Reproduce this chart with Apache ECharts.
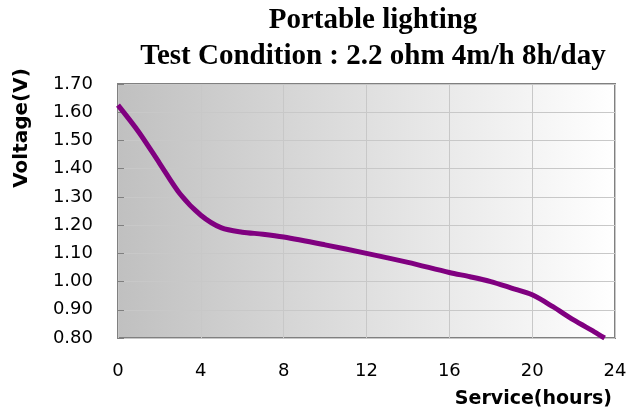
<!DOCTYPE html>
<html>
<head>
<meta charset="utf-8">
<script src="https://cdn.jsdelivr.net/npm/echarts@6/dist/echarts.min.js"></script>
<style>
  html, body { margin: 0; padding: 0; background: #fff; }
  #chart { width: 640px; height: 420px; }
</style>
</head>
<body>
<div id="chart"></div>
<script>
// service time (hours) and cell voltage
var hours   = [0, 1, 2, 3, 4, 5, 6, 7, 8, 10, 12, 14, 16, 17, 18, 19, 20, 21, 22, 23, 23.5];
var voltage = [1.625, 1.53, 1.42, 1.31, 1.235, 1.19, 1.175, 1.168, 1.158, 1.13, 1.10, 1.068, 1.032, 1.017, 1.0, 0.977, 0.953, 0.911, 0.864, 0.822, 0.80];

var titleLines = ['Portable lighting', 'Test Condition : 2.2 ohm 4m/h 8h/day'];

var points = hours.map(function (h, i) { return [h, voltage[i]]; });

var chart = echarts.init(document.getElementById('chart'));
chart.setOption({
    animation: false,
    title: [
        {
            text: titleLines[0],
            left: 373, top: 6, textAlign: 'center', padding: 0,
            textStyle: { fontFamily: 'Liberation Serif', fontWeight: 'bold', fontSize: 29, color: '#000' }
        },
        {
            text: titleLines[1],
            left: 373, top: 42, textAlign: 'center', padding: 0,
            textStyle: { fontFamily: 'Liberation Serif', fontWeight: 'bold', fontSize: 29, color: '#000' }
        }
    ],
    grid: {
        left: 118, right: 25, top: 84, bottom: 82,
        show: true,
        borderColor: '#808080',
        borderWidth: 2,
        backgroundColor: {
            type: 'linear', x: 0, y: 0, x2: 1, y2: 0,
            colorStops: [{ offset: 0, color: '#c0c0c0' }, { offset: 1, color: '#ffffff' }]
        }
    },
    xAxis: {
        type: 'value',
        min: 0, max: 24, interval: 4,
        axisLine: { show: false },
        axisTick: { show: false },
        axisLabel: { margin: 24, fontFamily: 'DejaVu Sans', fontSize: 18, color: '#000' },
        splitLine: { lineStyle: { color: '#c8c8c8', width: 1 } }
    },
    yAxis: {
        type: 'value',
        min: 0.8, max: 1.7, interval: 0.1,
        axisLine: { show: false },
        axisTick: { show: true, inside: true, length: 6, lineStyle: { color: '#808080' } },
        axisLabel: {
            margin: 25, fontFamily: 'DejaVu Sans', fontSize: 18, color: '#000',
            formatter: function (v) { return v.toFixed(2); }
        },
        splitLine: { lineStyle: { color: '#c8c8c8', width: 1 } }
    },
    graphic: [
        {
            type: 'text', x: 22, y: 128, rotation: Math.PI / 2,
            style: { text: 'Voltage(V)', font: 'bold 20px "DejaVu Sans"', fill: '#000', textAlign: 'center', textVerticalAlign: 'middle' }
        },
        {
            type: 'text', right: 28, top: 390,
            style: { text: 'Service(hours)', font: 'bold 19px "DejaVu Sans"', fill: '#000' }
        }
    ],
    series: [
        {
            type: 'line',
            data: points,
            smooth: 0.3,
            showSymbol: false,
            lineStyle: { color: '#800080', width: 5 }
        }
    ]
});
</script>
</body>
</html>
